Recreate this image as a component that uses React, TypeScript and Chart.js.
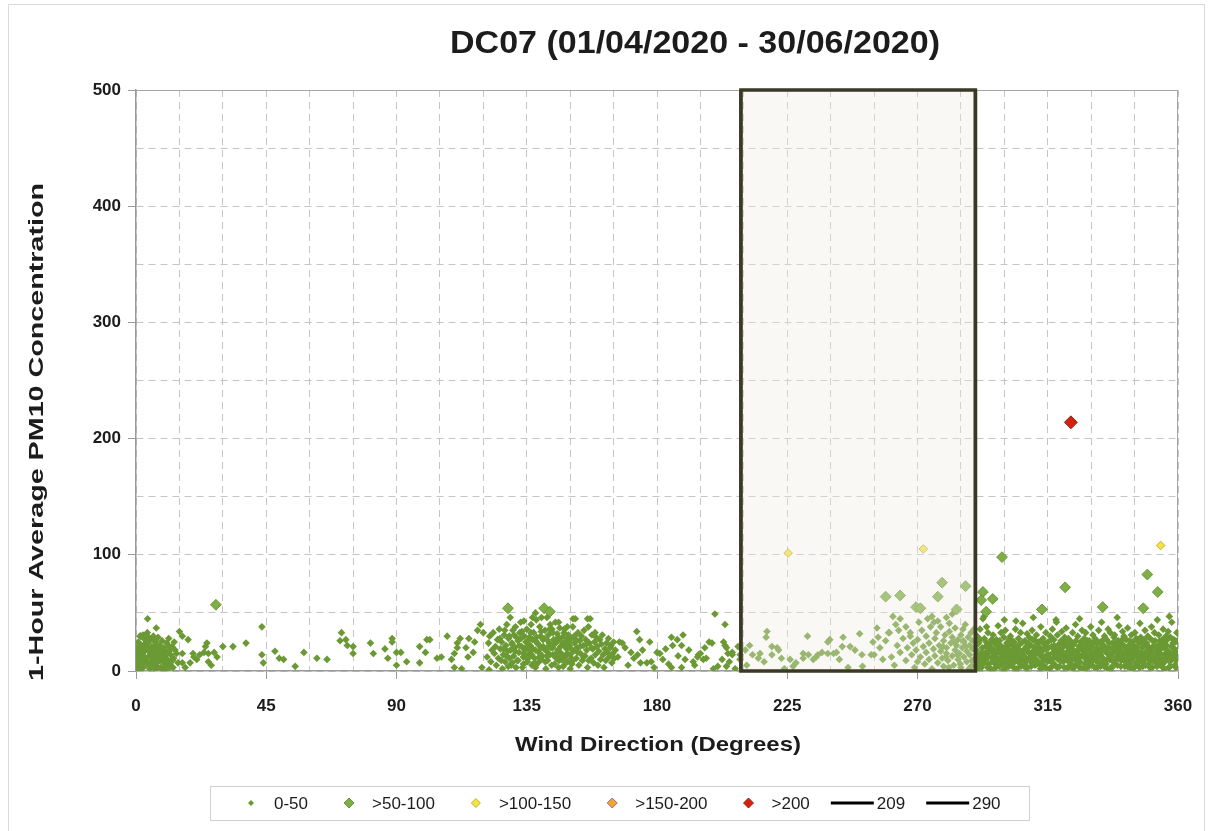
import React, { useEffect, useRef } from 'react';
import { Chart, registerables } from 'chart.js';

Chart.register(...registerables);

// ---------- text ----------
const chartTitle = 'DC07 (01/04/2020 - 30/06/2020)';
const xAxisTitle = 'Wind Direction (Degrees)';
const yAxisTitle = '1-Hour Average PM10 Concentration';
const seriesNames = ['0-50', '>50-100', '>100-150', '>150-200', '>200', '209', '290'];

// ---------- axes ----------
const xMin = 0, xMax = 360, xGridStep = 15, xLabelStep = 45;
const yMin = 0, yMax = 500, yGridStep = 50, yLabelStep = 100;

// ---------- highlighted sector (deg) ----------
const sectorFrom = 209;
const sectorTo = 290;

// ---------- data: [direction, PM10, direction, PM10, ...] ----------
const pmNorth = [
  0.5,12, 0.8,25, 1,5, 1.2,18, 1.5,30, 1.7,9, 2,22, 2.2,14, 2.5,3, 2.7,28, 3,17, 3.2,10, 3.5,24, 3.8,6,
  4,30, 4.2,19, 4.5,13, 4.7,2, 5,27, 5.2,8, 5.5,21, 5.8,15, 6,30, 6.2,4, 6.5,11, 6.8,25, 7,18, 7.3,7,
  7.6,29, 8,13, 8.2,22, 8.5,3, 8.8,16, 9,26, 9.3,9, 9.6,20, 10,12, 10.3,5, 10.6,24, 11,17, 11.3,28,
  11.6,8, 12,14, 12.4,21, 12.8,3, 13,11, 13.5,18, 0.3,20, 1.9,16, 3.3,27, 4.4,7, 5.6,11, 7.1,14, 8.6,9,
  9.8,17, 11.8,6, 2.4,31, 3.9,33, 0.2,3, 0.6,8, 1.1,1, 6.6,2, 9.5,1, 4,45, 7,37, 3.6,24, 5.3,17, 6.9,22,
  8.1,19, 10.8,10, 12.2,19, 14,15, 14.5,7, 0.9,14, 2.9,12, 13.2,25, 11.1,2, 1.4,30, 2.1,30, 2.8,30, 3.4,30,
  0.4,16, 1.3,22, 2.3,7, 3.1,20, 4.1,24, 4.9,16, 5.9,5, 6.4,19, 7.8,11, 8.9,20, 9.9,6, 10.5,15, 11.5,21,
  12.6,9, 1.6,11, 2.6,18, 5.1,13, 6.3,26, 7.4,3, 9.1,13,
];
const pmNorthEast = [
  15,34, 16,30, 18,27, 24.5,24, 24,21, 30,21, 33.5,21, 38,24, 43.5,38, 43.5,14, 44,7, 48,17, 49.5,11,
  51,10, 55,4, 58,16, 62.5,11, 66,10, 16,15, 19.7,15, 22,14, 16,7, 18.7,7, 21,10, 25,8, 23.5,16, 27,16,
  25,15, 17,3, 20,12, 26,5, 28,12, 71,33, 70.5,26, 72.5,27, 73,22, 75,21, 75,15, 81,24, 82,15, 86,19,
  87,11, 88.5,28, 88.5,25, 90,16, 91.5,16, 90,5, 93.5,8, 98,21, 100,16, 98,7, 100.5,27, 101.5,27, 104,11,
  107.5,30, 105.5,12, 109,10, 110,15, 111,20, 111,24, 112,28, 110,3, 112.5,2, 115,28, 114,20, 114.7,12,
  117,25, 118,35, 119,40, 120,33, 116.5,16, 119.5,3, 122,1,
];
const pmSouthEast = [
  121.3,12, 121.8,24, 122.2,30, 122.6,8, 123,18, 123.4,33, 123.8,15, 124.2,21, 124.5,5, 124.9,27, 125.2,11,
  125.5,36, 125.9,19, 126.3,25, 126.6,2, 126.9,14, 127.2,31, 127.5,8, 127.8,22, 128.1,40, 128.4,17, 128.7,28,
  129,11, 129.3,46, 129.6,5, 129.9,24, 130.2,35, 130.5,13, 130.8,20, 131.1,38, 131.4,29, 131.7,9, 132,26,
  132.3,16, 132.6,33, 132.9,42, 133.2,21, 133.5,3, 133.8,12, 134.1,30, 134.4,18, 134.7,25, 135,36, 135.3,8,
  135.6,14, 135.9,29, 136.2,22, 136.5,40, 136.8,5, 137.1,19, 137.4,33, 137.7,11, 138,26, 138.3,44, 138.6,24,
  138.9,7, 139.2,16, 139.5,38, 139.8,30, 140.1,46, 140.4,13, 140.7,21, 141,28, 141.3,35, 141.6,2, 141.9,17,
  142.2,9, 142.5,31, 142.8,24, 143.1,40, 143.4,20, 143.7,36, 144,14, 144.3,27, 144.6,6, 144.9,42, 145.2,11,
  145.5,32, 145.8,18, 146.1,9, 146.4,37, 146.7,21, 147,15, 147.3,29, 147.6,4, 147.9,33, 148.2,12, 148.5,25,
  148.8,19, 149.1,8, 149.4,31, 149.7,22, 150,14, 150.3,28, 150.6,6, 150.9,38, 151.2,17, 151.5,24, 151.8,45,
  152.1,11, 152.4,20, 152.7,33, 153,5, 153.3,26, 153.6,15, 153.9,30, 154.2,9, 154.5,22, 154.8,35, 155.1,13,
  155.4,27, 155.7,18, 156,3, 156.3,38, 156.6,24, 156.9,45, 157.2,11, 157.5,31, 157.8,19, 158.1,7, 158.4,25,
  158.7,14, 159,29, 159.3,21, 159.6,5, 159.9,17, 160.2,27, 160.5,10, 160.8,23, 161.1,31, 161.4,14, 161.7,3,
  162,19, 162.3,9, 162.6,24, 162.9,16, 163.2,28, 163.5,12, 163.8,20, 164.1,22, 164.4,7, 164.7,15, 165,25,
  165.3,11, 165.6,18, 127,19, 128,13, 129,30, 130,23, 131,17, 132,9, 133,28, 134,15, 135,21, 136,12, 137,27,
  138,18, 139,23, 140,10, 141,19, 142,27, 143,14, 144,20, 145,24, 146,27, 147,10, 148,22, 149,15, 150,20,
  151,9, 152,27, 130,7, 134,6, 138,3, 142,13, 146,3, 150,2, 136,18, 140,34, 144,33, 148,36, 134,43, 137,46,
  138,50, 142,46, 146,42, 149,38, 151,45, 156,45,
  125.7,28, 126.2,9, 127.4,35, 128.6,4, 129.4,18, 130.6,31, 131.3,3, 132.4,22, 133.3,34, 133.9,6, 134.9,11,
  135.4,26, 136.4,33, 136.7,14, 137.6,7, 138.4,29, 139.3,12, 139.9,20, 140.6,27, 141.4,8, 142.4,21, 142.9,36,
  143.6,5, 144.4,24, 145.4,16, 145.9,29, 146.6,13, 147.4,24, 148.4,7, 148.9,28, 149.6,25, 150.4,11, 151.4,30,
  152.6,16, 153.4,21, 154.6,12, 155.6,23, 156.4,9, 157.4,20, 158.6,33,
];
const pmSouth = [
  166.5,12, 167,25, 168,24, 171,16, 173,34, 173.3,14, 174,27, 175,18, 174.3,7, 176.5,7, 177.5,25, 178,8,
  180,16, 181,15, 182,10, 185,3, 185,29, 187,27, 185.4,22, 188.5,22, 189,31, 187.3,13, 189.7,10, 188.5,3,
  192.5,8, 194,12, 194.3,14, 195,15, 196,10, 197,11, 198,25, 199,24, 200,49, 203.5,40, 203,25, 203.5,22,
  204,20, 204.5,15, 206,16, 208,21, 206,14, 201,4, 202.5,10, 204,4, 208.7,14, 208.7,10, 169,20, 170,5,
  172,11, 179,3, 183,19, 184,6, 191,18, 193,5, 196.5,20, 199.5,2, 205,8, 207,2,
];
const pmSectorWest = [
  212,22, 213,14, 215.6,15, 215,11, 218,34, 217.7,29, 217,8, 219.7,21, 219.7,14, 221.5,20, 222,18, 223,11,
  226,10, 227,4, 230.5,15, 230.5,11, 232,30, 232.3,14, 234,10, 235,12, 235.6,14, 237,16, 239,25, 239.7,27,
  239,15, 241,15, 242,16, 243,10, 244,21, 244.3,29, 246.7,21, 248.4,18, 250,32, 250.8,14, 251,4, 254,14,
  255,14, 254.6,25, 256,37, 256.4,29, 257,20, 210.5,18, 211,5, 224,2, 228,7, 246,3, 258,10, 259,26, 260,33,
];
const pmSectorEast = [
  261.5,47, 264,45, 262.5,40, 260.3,33, 263,22, 267.5,33, 267.5,30, 270.5,42, 275,47, 275.7,42, 281,41,
  285.7,36, 282,49, 261,12, 262,5, 264,16, 265,28, 266,9, 266.5,20, 268,14, 268.5,24, 269,3, 269.5,18,
  270,8, 270,27, 271,12, 271.5,35, 272,21, 272.5,6, 273,16, 273,30, 274,10, 274,24, 274.5,38, 275,2,
  275.5,19, 276,13, 276,28, 276.5,33, 277,7, 277.5,22, 278,17, 278,38, 278.5,11, 279,26, 279,4, 279.5,31,
  280,15, 280,20, 280.5,9, 281,34, 281.5,24, 282,13, 282,29, 282.5,5, 283,18, 283,37, 283.5,22, 284,10,
  284,27, 284.5,15, 285,31, 285,3, 285.5,20, 286,12, 286,25, 286.5,40, 287,17, 287,8, 287.5,29, 288,22,
  288,14, 288.5,33, 288.5,4, 289,19, 289,26, 289.5,10, 289.5,36, 277,43, 280,46, 273.5,45, 266,38, 263.5,35,
  278.8,21, 280.8,3, 282.8,25, 284.8,6, 286.8,21, 288.8,9, 279.8,12, 283.8,14, 285.8,26, 287.8,2,
];
const pmNorthWest = [
  290.1,5, 290.35,18, 290.6,30, 290.85,11, 291.1,24, 291.35,8, 291.6,36, 291.85,15, 292.1,3, 292.35,20,
  292.6,45, 292.85,12, 293.1,28, 293.35,9, 293.6,16, 293.85,38, 294.1,14, 294.35,33, 294.6,6, 294.85,22,
  295.1,19, 295.35,2, 295.6,27, 295.85,11, 296.1,31, 296.35,13, 296.6,7, 296.85,24, 297.1,17, 297.35,4,
  297.6,22, 297.85,39, 298.1,10, 298.35,26, 298.6,15, 298.85,33, 299.1,21, 299.35,6, 299.6,12, 299.85,29,
  300.1,16, 300.35,35, 300.6,3, 300.85,24, 301.1,9, 301.35,19, 301.6,27, 301.85,13, 302.1,30, 302.35,5,
  302.6,17, 302.85,22, 303.1,12, 303.35,25, 303.6,8, 303.85,36, 304.1,20, 304.35,2, 304.6,15, 304.85,28,
  305.1,7, 305.35,23, 305.6,33, 305.85,11, 306.1,14, 306.35,41, 306.6,18, 306.85,4, 307.1,26, 307.35,10,
  307.6,21, 307.85,32, 308.1,3, 308.35,16, 308.6,29, 308.85,12, 309.1,22, 309.35,8, 309.6,35, 309.85,17,
  310.1,13, 310.35,27, 310.6,5, 310.85,19, 311.1,31, 311.35,9, 311.6,24, 311.85,15, 312.1,6, 312.35,20,
  312.6,38, 312.85,12, 313.1,17, 313.35,28, 313.6,4, 313.85,23, 314.1,11, 314.35,33, 314.6,19, 314.85,8,
  315.1,25, 315.35,14, 315.6,2, 315.85,30, 316.1,9, 316.35,21, 316.6,36, 316.85,16, 317.1,27, 317.35,12,
  317.6,5, 317.85,44, 318.1,18, 318.35,31, 318.6,10, 318.85,23, 319.1,4, 319.35,15, 319.6,26, 319.85,34,
  320.1,20, 320.35,8, 320.6,13, 320.85,29, 321.1,12, 321.35,37, 321.6,22, 321.85,3, 322.1,28, 322.35,16,
  322.6,9, 322.85,24, 323.1,6, 323.35,19, 323.6,33, 323.85,14, 324.1,23, 324.35,11, 324.6,40, 324.85,17,
  325.1,15, 325.35,30, 325.6,4, 325.85,21, 326.1,8, 326.35,25, 326.6,13, 326.85,35, 327.1,19, 327.35,2,
  327.6,28, 327.85,11, 328.1,33, 328.35,14, 328.6,22, 328.85,7, 329.1,10, 329.35,26, 329.6,17, 329.85,38,
  330.1,21, 330.35,5, 330.6,31, 330.85,13, 331.1,16, 331.35,28, 331.6,9, 331.85,24, 332.1,3, 332.35,19,
  332.6,35, 332.85,12, 333.1,25, 333.35,14, 333.6,42, 333.85,8, 334.1,11, 334.35,22, 334.6,30, 334.85,17,
  335.1,6, 335.35,27, 335.6,15, 335.85,36, 336.1,20, 336.35,10, 336.6,33, 336.85,3, 337.1,14, 337.35,24,
  337.6,8, 337.85,29, 338.1,31, 338.35,17, 338.6,21, 338.85,12, 339.1,5, 339.35,26, 339.6,39, 339.85,15,
  340.1,18, 340.35,9, 340.6,23, 340.85,34, 341.1,12, 341.35,30, 341.6,4, 341.85,20, 342.1,27, 342.35,16,
  342.6,37, 342.85,9, 343.1,22, 343.35,6, 343.6,14, 343.85,31, 344.1,10, 344.35,25, 344.6,19, 344.85,3,
  345.1,33, 345.35,15, 345.6,28, 345.85,12, 346.1,17, 346.35,7, 346.6,24, 346.85,41, 347.1,29, 347.35,13,
  347.6,20, 347.85,4, 348.1,9, 348.35,22, 348.6,35, 348.85,16, 349.1,24, 349.35,11, 349.6,30, 349.85,6,
  350.1,15, 350.35,28, 350.6,19, 350.85,38, 351.1,3, 351.35,21, 351.6,12, 351.85,33, 352.1,26, 352.35,8,
  352.6,17, 352.85,44, 353.1,13, 353.35,31, 353.6,23, 353.85,5, 354.1,19, 354.35,10, 354.6,27, 354.85,36,
  355.1,7, 355.35,24, 355.6,15, 355.85,30, 356.1,22, 356.35,13, 356.6,34, 356.85,3, 357.1,16, 357.35,29,
  357.6,9, 357.85,42, 358.1,11, 358.35,20, 358.6,27, 358.85,5, 359.1,25, 359.35,14, 359.6,33, 359.85,18,
  290.5,14, 291.5,3, 292.5,9, 293.5,21, 294.5,12, 295.5,17, 296.5,2, 297.5,11, 298.5,19, 299.5,7, 300.5,12,
  301.5,4, 302.5,11, 303.5,18, 304.5,9, 305.5,15, 306.5,10, 307.5,3, 308.5,21, 309.5,13, 310.5,10, 311.5,18,
  312.5,2, 313.5,12, 314.5,24, 315.5,9, 316.5,4, 317.5,18, 318.5,14, 319.5,9, 320.5,24, 321.5,16, 322.5,4,
  323.5,10, 324.5,5, 325.5,11, 326.5,19, 327.5,15, 328.5,3, 329.5,21, 330.5,9, 331.5,13, 332.5,7, 333.5,18,
  334.5,4, 335.5,10, 336.5,15, 337.5,19, 338.5,6, 339.5,11, 340.5,14, 341.5,16, 342.5,4, 343.5,18, 344.5,13,
  345.5,7, 346.5,12, 347.5,16, 348.5,11, 349.5,18, 350.5,9, 351.5,16, 352.5,12, 353.5,18, 354.5,4, 355.5,11,
  356.5,17, 357.5,13, 358.5,16, 359.5,9, 293,47, 300,44, 310,46, 326,45, 339,46, 357,47, 304,43, 318,42,
  290.25,22, 290.75,2, 291.25,12, 291.75,27, 292.25,16, 292.75,6, 293.25,13, 293.75,25, 294.25,3, 294.75,17,
  295.25,24, 295.75,8, 296.25,19, 296.75,14, 297.25,27, 297.75,9, 298.25,4, 298.75,21, 299.25,16, 299.75,1,
  300.25,20, 300.75,8, 301.25,14, 301.75,23, 302.25,9, 302.75,26, 303.25,3, 303.75,15, 304.25,12, 304.75,22,
  305.25,18, 305.75,4, 306.25,25, 306.75,13, 307.25,7, 307.75,17, 308.25,24, 308.75,9, 309.25,4, 309.75,27,
  310.25,21, 310.75,14, 311.25,6, 311.75,25, 312.25,16, 312.75,26, 313.25,8, 313.75,19, 314.25,3, 314.75,14,
  315.25,20, 315.75,11, 316.25,27, 316.75,7, 317.25,22, 317.75,14, 318.25,3, 318.75,19, 319.25,12, 319.75,21,
  320.25,16, 320.75,3, 321.25,27, 321.75,9, 322.25,20, 322.75,13, 323.25,25, 323.75,2, 324.25,15, 324.75,26,
  325.25,8, 325.75,18, 326.25,3, 326.75,22, 327.25,24, 327.75,6, 328.25,18, 328.75,26, 329.25,4, 329.75,13,
  330.25,16, 330.75,24, 331.25,3, 331.75,19, 332.25,25, 332.75,16, 333.25,4, 333.75,22, 334.25,27, 334.75,8,
  335.25,19, 335.75,2, 336.25,24, 336.75,12, 337.25,3, 337.75,20, 338.25,9, 338.75,25, 339.25,17, 339.75,21,
  340.25,4, 340.75,27, 341.25,22, 341.75,8, 342.25,12, 342.75,21, 343.25,26, 343.75,2, 344.25,17, 344.75,22,
  345.25,4, 345.75,20, 346.25,26, 346.75,3, 347.25,9, 347.75,24, 348.25,27, 348.75,5, 349.25,14, 349.75,21,
  350.25,3, 350.75,12, 351.25,26, 351.75,8, 352.25,21, 352.75,4, 353.25,9, 353.75,26, 354.25,14, 354.75,22,
  355.25,2, 355.75,19, 356.25,27, 356.75,9, 357.25,4, 357.75,21, 358.25,24, 358.75,13, 359.25,3, 359.75,26,
];
const pm50to100 = [
  27.6,57, 128.5,54, 141,54, 143,51, 259,64, 264,65, 278.5,76, 277,64, 286.6,73, 269.5,55, 271,54,
  283.5,53, 292.6,68, 292,61, 296,62, 293.7,51, 299.2,98, 313,53, 321,72, 334,55, 349.4,83, 353,68, 348,54,
];
const pm100to150 = [225.3,101.5, 272,105, 354,108];
const pm150to200: number[] = [];
const pmAbove200 = [323,214];
const line209 = [209,0, 209,500];
const line290 = [290,0, 290,500];

// ---------- styles ----------
const TEXT = '#1c1c1c';
const FONT = "'Liberation Sans', Arial, sans-serif";
const seriesStyle = [
  { fill: '#6b9934', stroke: '#6b9934', r: 3.8, bw: 0, legendR: 3 },
  { fill: '#7fae47', stroke: '#6a9838', r: 5.4, bw: 1, legendR: 5 },
  { fill: '#f3e43c', stroke: '#c2ad44', r: 4.3, bw: 1, legendR: 4.5 },
  { fill: '#f4a62a', stroke: '#8a6bb0', r: 5, bw: 1, legendR: 5 },
  { fill: '#d42010', stroke: '#8a2c1c', r: 6.5, bw: 1, legendR: 5 },
  { fill: '#000000', stroke: '#000000', r: 0, bw: 3, legendR: 0 },
  { fill: '#000000', stroke: '#000000', r: 0, bw: 3, legendR: 0 },
];

const toPoints = (flat: number[]) => {
  const out: { x: number; y: number }[] = [];
  for (let i = 0; i < flat.length; i += 2) out.push({ x: flat[i], y: flat[i + 1] });
  return out;
};

function diamond(ctx: CanvasRenderingContext2D, x: number, y: number, r: number, fill: string, stroke: string, bw: number) {
  ctx.beginPath();
  ctx.moveTo(x, y - r);
  ctx.lineTo(x + r, y);
  ctx.lineTo(x, y + r);
  ctx.lineTo(x - r, y);
  ctx.closePath();
  ctx.fillStyle = fill;
  ctx.fill();
  if (bw > 0) {
    ctx.lineWidth = bw;
    ctx.strokeStyle = stroke;
    ctx.stroke();
  }
}

function fitText(ctx: CanvasRenderingContext2D, text: string, cx: number, cy: number, target: number, font: string, rotate: boolean) {
  ctx.save();
  ctx.font = font;
  const w = ctx.measureText(text).width;
  ctx.translate(cx, cy);
  if (rotate) ctx.rotate(-Math.PI / 2);
  ctx.scale(target / w, 1);
  ctx.textAlign = 'center';
  ctx.textBaseline = 'middle';
  ctx.fillStyle = TEXT;
  ctx.fillText(text, 0, 0);
  ctx.restore();
}

const decorPlugin = {
  id: 'decor',
  beforeDraw(chart: any) {
    const { ctx, width, height } = chart;
    ctx.save();
    ctx.fillStyle = '#ffffff';
    ctx.fillRect(0, 0, width, height);
    ctx.strokeStyle = '#d9d9d9';
    ctx.lineWidth = 1;
    ctx.strokeRect(8.5, 4.5, 1196, 860);
    ctx.restore();
  },
  beforeDatasetsDraw(chart: any) {
    const { ctx, chartArea: ca } = chart;
    ctx.save();
    ctx.strokeStyle = '#a6a6a6';
    ctx.lineWidth = 1;
    ctx.beginPath();
    ctx.moveTo(ca.left, ca.top + 0.5);
    ctx.lineTo(ca.right, ca.top + 0.5);
    ctx.moveTo(ca.right - 0.5, ca.top);
    ctx.lineTo(ca.right - 0.5, ca.bottom);
    ctx.stroke();
    ctx.restore();
  },
  afterDatasetsDraw(chart: any) {
    const { ctx, scales } = chart;
    const l = scales.x.getPixelForValue(sectorFrom);
    const r = scales.x.getPixelForValue(sectorTo);
    const t = scales.y.getPixelForValue(yMax);
    const b = scales.y.getPixelForValue(yMin);
    ctx.save();
    ctx.fillStyle = 'rgba(238,235,224,0.36)';
    ctx.fillRect(l, t, r - l, b - t);
    ctx.strokeStyle = '#3c3826';
    ctx.lineWidth = 3.5;
    ctx.strokeRect(l, t, r - l, b - t);
    ctx.restore();
  },
  afterDraw(chart: any) {
    const { ctx } = chart;
    fitText(ctx, chartTitle, 695, 44, 490, `bold 31px ${FONT}`, false);
    fitText(ctx, xAxisTitle, 658, 745, 286, `bold 21px ${FONT}`, false);
    fitText(ctx, yAxisTitle, 37, 432, 498, `bold 21px ${FONT}`, true);

    // legend
    const top = 786, bottom = 820, left = 210, right = 1029;
    const cy = (top + bottom) / 2;
    ctx.save();
    ctx.strokeStyle = '#d0d0d0';
    ctx.lineWidth = 1;
    ctx.strokeRect(left + 0.5, top + 0.5, right - left, bottom - top);
    ctx.font = `17px ${FONT}`;
    ctx.textBaseline = 'middle';
    ctx.textAlign = 'left';
    let cursor = 251;
    seriesNames.forEach((name, i) => {
      const st = seriesStyle[i];
      let textX: number;
      if (i < 5) {
        diamond(ctx, cursor, cy, st.legendR, st.fill, st.stroke, st.bw);
        textX = cursor + 23;
      } else {
        ctx.strokeStyle = '#000';
        ctx.lineWidth = 3;
        ctx.beginPath();
        ctx.moveTo(cursor, cy);
        ctx.lineTo(cursor + 43, cy);
        ctx.stroke();
        textX = cursor + 46;
      }
      ctx.fillStyle = TEXT;
      ctx.fillText(name, textX, cy + 1);
      const tw = ctx.measureText(name).width;
      if (i < 4) cursor = textX + tw + 41;
      else cursor = textX + tw + 21;
    });
    ctx.restore();
  },
};

export default function App() {
  const canvasRef = useRef<HTMLCanvasElement>(null);

  useEffect(() => {
    const canvas = canvasRef.current;
    if (!canvas) return;
    const lowPoints = toPoints([
      ...pmNorth, ...pmNorthEast, ...pmSouthEast, ...pmSouth, ...pmSectorWest, ...pmSectorEast, ...pmNorthWest,
    ]);
    const groups = [lowPoints, toPoints(pm50to100), toPoints(pm100to150), toPoints(pm150to200), toPoints(pmAbove200)];
    const pointSets = groups.map((data, i) => ({
      label: seriesNames[i],
      data,
      pointStyle: 'rectRot',
      pointRadius: seriesStyle[i].r,
      pointBackgroundColor: seriesStyle[i].fill,
      pointBorderColor: seriesStyle[i].stroke,
      pointBorderWidth: seriesStyle[i].bw,
      showLine: false,
      order: 10 - i,
    }));
    const lineSets = [line209, line290].map((flat, j) => ({
      label: seriesNames[5 + j],
      data: toPoints(flat),
      showLine: true,
      borderColor: '#3c3826',
      borderWidth: 3.5,
      pointRadius: 0,
      order: 1,
    }));

    const tickFont = { family: FONT, size: 17, weight: 'bold' as const };
    const chart = new Chart(canvas, {
      type: 'scatter',
      data: { datasets: [...pointSets, ...lineSets] as any },
      plugins: [decorPlugin],
      options: {
        animation: false,
        responsive: false,
        events: [],
        layout: { padding: { top: 90, right: 33, left: 0, bottom: 0 } },
        plugins: { legend: { display: false }, title: { display: false }, tooltip: { enabled: false } },
        scales: {
          x: {
            type: 'linear',
            min: xMin,
            max: xMax,
            afterFit: (s: any) => { s.height = 160; },
            ticks: {
              stepSize: xGridStep,
              autoSkip: false,
              maxRotation: 0,
              padding: 17,
              color: TEXT,
              font: tickFont,
              callback: (v: any) => (Number(v) % xLabelStep === 0 ? String(v) : ''),
            },
            grid: {
              color: '#c4c4c4',
              lineWidth: 1,
              tickLength: 8,
              tickColor: (c: any) => (c.tick && c.tick.value % xLabelStep === 0 ? '#9a9a9a' : 'rgba(0,0,0,0)'),
            },
            border: { color: '#9a9a9a', width: 1.5, dash: [7, 5] },
          },
          y: {
            type: 'linear',
            min: yMin,
            max: yMax,
            afterFit: (s: any) => { s.width = 136; },
            ticks: {
              stepSize: yGridStep,
              autoSkip: false,
              padding: 7,
              color: TEXT,
              font: tickFont,
              callback: (v: any) => (Number(v) % yLabelStep === 0 ? String(v) : ''),
            },
            grid: {
              color: '#c4c4c4',
              lineWidth: 1,
              tickLength: 8,
              tickColor: (c: any) => (c.tick && c.tick.value % yLabelStep === 0 ? '#9a9a9a' : 'rgba(0,0,0,0)'),
            },
            border: { color: '#9a9a9a', width: 1.5, dash: [7, 5] },
          },
        },
      },
    });
    return () => chart.destroy();
  }, []);

  return (
    <div style={{ position: 'absolute', left: 0, top: 0, width: 1211, height: 831 }}>
      <canvas ref={canvasRef} width={1211} height={831} style={{ display: 'block', width: 1211, height: 831 }} />
    </div>
  );
}
